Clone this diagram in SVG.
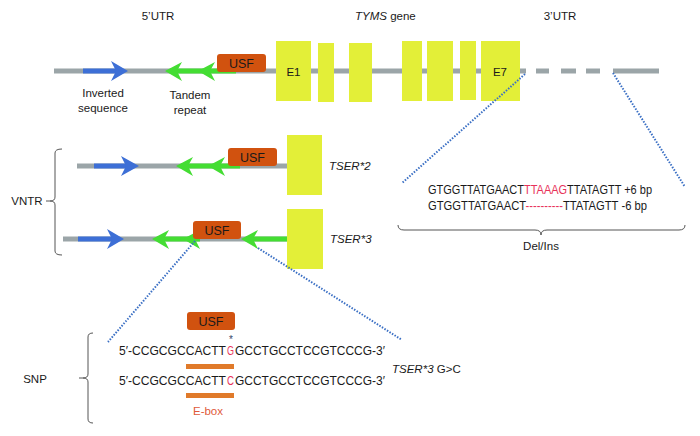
<svg xmlns="http://www.w3.org/2000/svg" width="700" height="436" viewBox="0 0 700 436">
<style>
text{font-family:"Liberation Sans","DejaVu Sans",Arial,sans-serif;fill:#1a1a1a;}
.lbl{font-size:11.5px;}
.seq{font-size:12px;}
.it{font-style:italic;}
.red{fill:#e8325a;}
.grey{stroke:#9ba5a8;stroke-width:5;fill:none;}
.blue{stroke:#3d6fd6;stroke-width:5;fill:none;}
.green{stroke:#44dd33;stroke-width:5;fill:none;}
.bh{fill:#3d6fd6;}
.gh{fill:#44dd33;}
.usf{fill:#d1520f;}
.ex{fill:#e3ef38;}
.dot{stroke:#3a6fc4;stroke-width:2;stroke-dasharray:1.5 1.5;fill:none;}
.br{stroke:#555;stroke-width:1;fill:none;}
.ebar{fill:#e07a2a;}
</style>

<g id="titles">
<text class="lbl" x="158" y="20" text-anchor="middle">5’UTR</text>
<text class="lbl" x="355" y="20"><tspan class="it">TYMS</tspan> gene</text>
<text class="lbl" x="560" y="20" text-anchor="middle">3’UTR</text>
</g>

<g id="gene">
<line class="grey" x1="54" y1="71" x2="526" y2="71"/>
<line class="grey" x1="536" y1="71" x2="549" y2="71"/>
<line class="grey" x1="561" y1="71" x2="576" y2="71"/>
<line class="grey" x1="586" y1="71" x2="600" y2="71"/>
<line class="grey" x1="613" y1="71" x2="659" y2="71"/>
<line class="blue" x1="83" y1="71" x2="118" y2="71"/>
<polygon class="bh" points="128,71 111,61 116,71 111,81"/>
<line class="green" x1="170" y1="71" x2="236" y2="71"/>
<polygon class="gh" points="165,71 182,62 177,71 182,81"/>
<polygon class="gh" points="198,71 215,62 210,71 215,81"/>
<g id="usf-main"><rect class="usf" x="217" y="54" width="49" height="18" rx="3"/><text x="241.5" y="67.5" text-anchor="middle" font-size="12.5">USF</text></g>
<g id="e1"><rect class="ex" x="276" y="41" width="35" height="60"/><text class="lbl" x="293.5" y="76" text-anchor="middle">E1</text></g>
<rect class="ex" x="318" y="43" width="16" height="59"/>
<rect class="ex" x="349" y="43" width="23" height="59"/>
<rect class="ex" x="402" y="41" width="20" height="60"/>
<rect class="ex" x="427" y="41" width="26" height="60"/>
<rect class="ex" x="460" y="41" width="16" height="59"/>
<g id="e7"><rect class="ex" x="481" y="41" width="39" height="60"/><text class="lbl" x="500" y="76" text-anchor="middle">E7</text></g>
<text class="lbl" x="103" y="97" text-anchor="middle">Inverted</text>
<text class="lbl" x="103" y="112" text-anchor="middle">sequence</text>
<text class="lbl" x="190" y="99" text-anchor="middle">Tandem</text>
<text class="lbl" x="190" y="114" text-anchor="middle">repeat</text>
</g>

<g id="tser2">
<line class="grey" x1="77" y1="166" x2="287" y2="166"/>
<line class="blue" x1="94" y1="166" x2="129" y2="166"/>
<polygon class="bh" points="139,166 121,156 126,166 121,176"/>
<line class="green" x1="181" y1="166" x2="240" y2="166"/>
<polygon class="gh" points="176,166 193,157 188,166 193,176"/>
<polygon class="gh" points="208,166 225,157 220,166 225,176"/>
<rect class="usf" x="228" y="148" width="49" height="18" rx="3"/>
<text x="252.5" y="161.5" text-anchor="middle" font-size="12.5">USF</text>
<rect class="ex" x="287" y="135" width="35" height="60"/>
<text class="lbl it" x="329" y="170">TSER*2</text>
</g>

<g id="tser3">
<line class="grey" x1="63" y1="239" x2="287" y2="239"/>
<line class="blue" x1="78" y1="239" x2="114" y2="239"/>
<polygon class="bh" points="124,239 107,229 112,239 107,249"/>
<line class="green" x1="157" y1="239" x2="200" y2="239"/>
<polygon class="gh" points="152,239 169,230 164,239 169,249"/>
<polygon class="gh" points="183,239 200,230 195,239 200,249"/>
<line class="green" x1="246" y1="239" x2="287" y2="239"/>
<polygon class="gh" points="241,239 258,230 253,239 258,249"/>
<rect class="usf" x="193" y="221" width="48" height="18" rx="3"/>
<text x="217" y="234.5" text-anchor="middle" font-size="12.5">USF</text>
<rect class="ex" x="287" y="209" width="36" height="60"/>
<text class="lbl it" x="330" y="243">TSER*3</text>
</g>

<g id="connectors">
<line class="dot" x1="525" y1="74" x2="402" y2="183"/>
<line class="dot" x1="613" y1="73" x2="685" y2="187"/>
<line class="dot" x1="195" y1="241" x2="108" y2="342"/>
<line class="dot" x1="258" y1="248" x2="402" y2="340"/>
</g>

<g id="vntr">
<path class="br" d="M62,149 Q55,149 55,153 L55,197 Q55,201 50,201 Q55,201 55,205 L55,251 Q55,255 62,255"/>
<text class="lbl" x="27" y="205" text-anchor="middle">VNTR</text>
<line class="br" x1="46" y1="201" x2="50" y2="201"/>
</g>

<g id="delins">
<text class="seq" x="428" y="194" textLength="224" lengthAdjust="spacingAndGlyphs">GTGGTTATGAACT<tspan class="red">TTAAAG</tspan>TTATAGTT +6 bp</text>
<text class="seq" x="428" y="210" textLength="219" lengthAdjust="spacingAndGlyphs">GTGGTTATGAACT<tspan class="red">----------</tspan>TTATAGTT -6 bp</text>
<path class="br" d="M398,225 Q398,230 404,230 L535,230 Q541,230 541,235 Q541,230 547,230 L679,230 Q685,230 685,225"/>
<text class="lbl" x="541" y="250" text-anchor="middle">Del/Ins</text>
</g>

<g id="snp">
<path class="br" d="M93,333 Q88,333 88,337 L88,374 Q88,378 83,378 Q88,378 88,382 L88,419 Q88,423 93,423"/>
<line class="br" x1="79" y1="378" x2="83" y2="378"/>
<text class="lbl" x="35" y="383" text-anchor="middle">SNP</text>
<rect class="usf" x="187" y="312" width="48" height="18" rx="3"/>
<text x="211" y="325.5" text-anchor="middle" font-size="12.5">USF</text>
<text x="231" y="343" text-anchor="middle" font-size="10" style="fill:#334466">*</text>
<text class="seq" x="119" y="355" textLength="107" lengthAdjust="spacingAndGlyphs">5′-CCGCGCCACTT</text>
<text class="seq red" x="227" y="355" textLength="7" lengthAdjust="spacingAndGlyphs">G</text>
<text class="seq" x="235" y="355" textLength="150" lengthAdjust="spacingAndGlyphs">GCCTGCCTCCGTCCCG-3′</text>
<rect class="ebar" x="186" y="364" width="48" height="5"/>
<text class="seq" x="119" y="385" textLength="107" lengthAdjust="spacingAndGlyphs">5′-CCGCGCCACTT</text>
<text class="seq red" x="227" y="385" textLength="7" lengthAdjust="spacingAndGlyphs">C</text>
<text class="seq" x="235" y="385" textLength="150" lengthAdjust="spacingAndGlyphs">GCCTGCCTCCGTCCCG-3′</text>
<rect class="ebar" x="186" y="393" width="48" height="5"/>
<text class="lbl" x="208" y="415" text-anchor="middle" style="fill:#e05a3a">E-box</text>
<text class="lbl" x="392" y="373"><tspan class="it">TSER*3</tspan> G&gt;C</text>
</g>
</svg>
